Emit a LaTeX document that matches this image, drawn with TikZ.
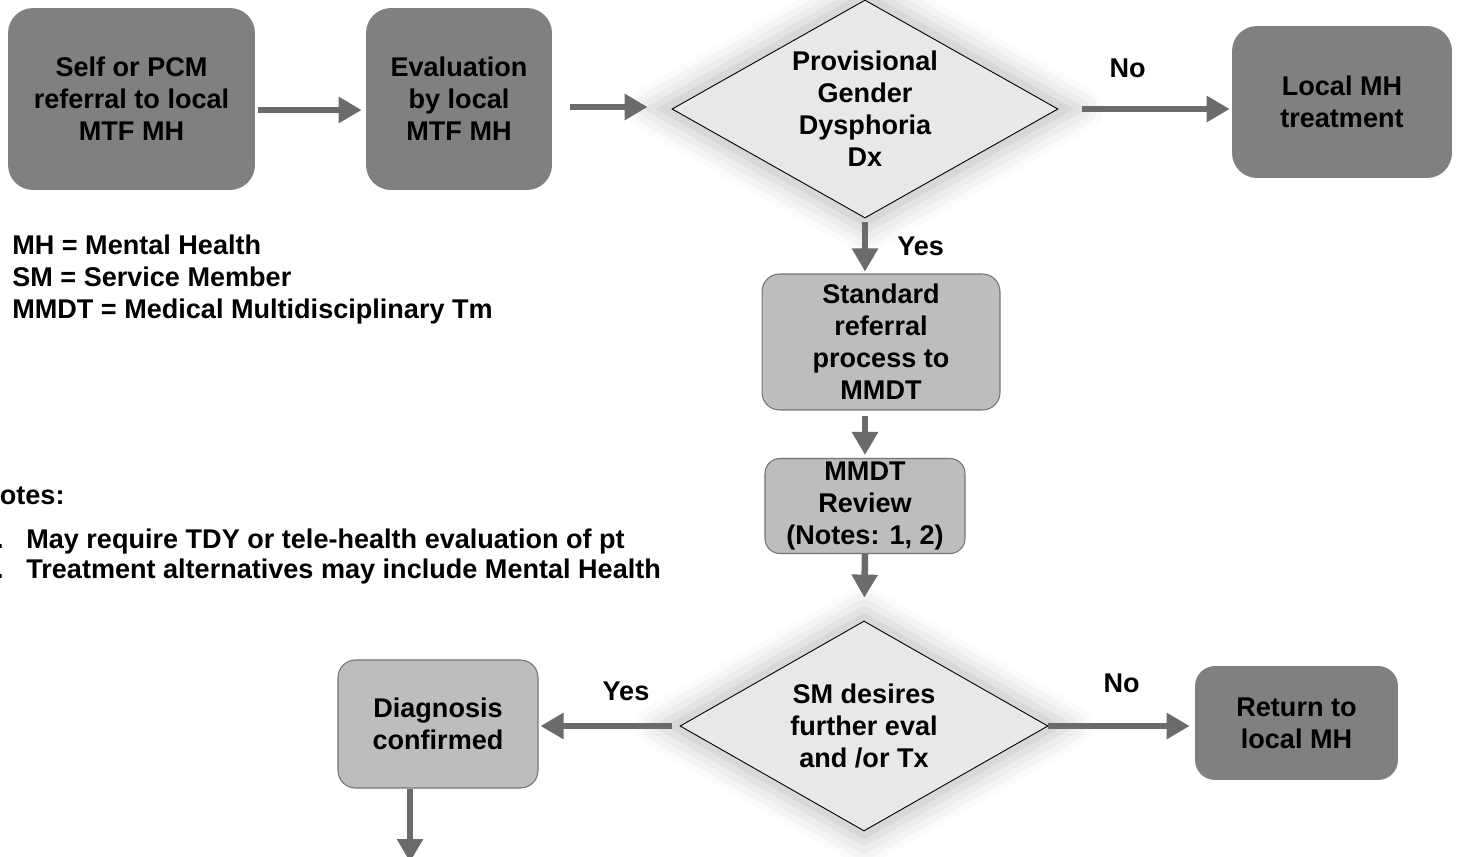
\documentclass[tikz,border=0pt]{standalone}
\usepackage{fontspec}
\setmainfont{Liberation Sans}
\usepackage{xcolor}
\usepackage{tikz}
\usetikzlibrary{shapes.geometric}
\usetikzlibrary{arrows.meta}
\usetikzlibrary{shadows.blur}

\definecolor{boxdark}{gray}{0.5}
\definecolor{boxlight}{gray}{0.74}
\definecolor{diafill}{gray}{0.91}
\definecolor{flowgray}{gray}{0.42}

\tikzset{
  txt/.style={font=\fontsize{15.4}{18.2}\selectfont\bfseries},
  darkbox/.style={txt, rectangle, rounded corners=0.5cm, fill=boxdark,
    align=center, inner sep=0pt},
  lightbox/.style={txt, rectangle, rounded corners=0.35cm, fill=boxlight,
    draw=black!55, line width=0.6pt, align=center, inner sep=0pt},
  decision/.style={txt, diamond, draw=black, line width=0.5pt, fill=diafill,
    align=center, inner sep=0pt,
    blur shadow={shadow xshift=0pt, shadow yshift=0pt, shadow scale=1.12,
      shadow opacity=22, shadow blur radius=0.4cm}},
  lbl/.style={txt, inner sep=0pt},
  flow/.style={draw=flowgray, line width=0.13cm,
    -{Triangle[length=0.46cm, width=0.5cm]}}
}

\begin{document}
\begin{tikzpicture}[x=0.02cm, y=-0.02cm]
    \useasboundingbox (0,0) rectangle (1458,856);

    % top row
    \node[darkbox, minimum width=4.94cm, minimum height=3.64cm] (refer)
      at (131.5,99) {Self or PCM\\referral to local\\MTF MH};
    \node[darkbox, minimum width=3.72cm, minimum height=3.64cm] (eval)
      at (459,99) {Evaluation\\by local\\MTF MH};
    \node[decision, aspect=1.77, minimum width=7.72cm, minimum height=4.36cm]
      (dx) at (865,109) {Provisional\\Gender\\Dysphoria\\Dx};
    \node[darkbox, minimum width=4.4cm, minimum height=3.04cm] (local)
      at (1342,102) {Local MH\\treatment};

    % middle column
    \node[lightbox, minimum width=4.76cm, minimum height=2.72cm] (std)
      at (881,342) {Standard\\referral\\process to\\MMDT};
    \node[lightbox, rounded corners=0.3cm, minimum width=4cm,
      minimum height=1.9cm] (review)
      at (865,506) {MMDT\\Review\\(Notes: 1, 2)};

    % bottom row
    \node[decision, aspect=1.75, minimum width=7.36cm, minimum height=4.2cm]
      (desire) at (864,726) {SM desires\\further eval\\and /or Tx};
    \node[lightbox, minimum width=4cm, minimum height=2.56cm] (diag)
      at (438,724) {Diagnosis\\confirmed};
    \node[darkbox, rounded corners=0.4cm, minimum width=4.06cm,
      minimum height=2.28cm] (ret)
      at (1296.5,723) {Return to\\local MH};
    \coordinate (sink) at (410,862);

    % legend and notes
    \node[lbl, anchor=base west] (mh) at (12,254) {MH = Mental Health};
    \node[lbl, anchor=base west] (sm) at (12,286) {SM = Service Member};
    \node[lbl, anchor=base west] (mmdt) at (12,318)
      {MMDT = Medical Multidisciplinary Tm};
    \node[lbl, anchor=base west] (notes) at (-20,504) {Notes:};
    \node[lbl, anchor=base east] (n1) at (4,548) {1.};
    \node[lbl, anchor=base west] (t1) at (26,548)
      {May require TDY or tele-health evaluation of pt};
    \node[lbl, anchor=base east] (n2) at (4,578) {2.};
    \node[lbl, anchor=base west] (t2) at (26,578)
      {Treatment alternatives may include Mental Health};

    % connectors
    \draw[flow, shorten <=0.06cm, shorten >=0.08cm]
      ([yshift=-0.22cm]refer.east) -- ([yshift=-0.22cm]eval.west);
    \draw[flow, shorten <=0.36cm, shorten >=0.48cm]
      ([yshift=-0.16cm]eval.east) -- ([yshift=-0.16cm]eval.east -| dx.west);
    \draw[flow, shorten <=0.48cm, shorten >=0.04cm]
      (dx.east) -- (dx.east -| local.west)
      node[lbl, pos=0.4, above=0.56cm] (no1) {No};
    \draw[flow, shorten <=0.08cm, shorten >=0.04cm]
      (dx.south) -- (dx.south |- std.north)
      node[lbl, midway, right=0.58cm] (yes1) {Yes};
    \draw[flow, shorten <=0.1cm, shorten >=0.06cm]
      (std.south -| review.north) -- (review.north);
    \draw[flow, shorten >=0.46cm]
      (review.south) -- (desire.north);
    \draw[flow, shorten >=0.1cm]
      (desire.east) -- (desire.east -| ret.west)
      node[lbl, midway, above=0.6cm] (no2) {No};
    \draw[flow, shorten <=0.16cm, shorten >=0.04cm]
      (desire.west) -- (desire.west -| diag.east)
      node[lbl, pos=0.38, above=0.44cm] (yes2) {Yes};
    \draw[flow] (diag.south -| sink) -- (sink);
\end{tikzpicture}
\end{document}
